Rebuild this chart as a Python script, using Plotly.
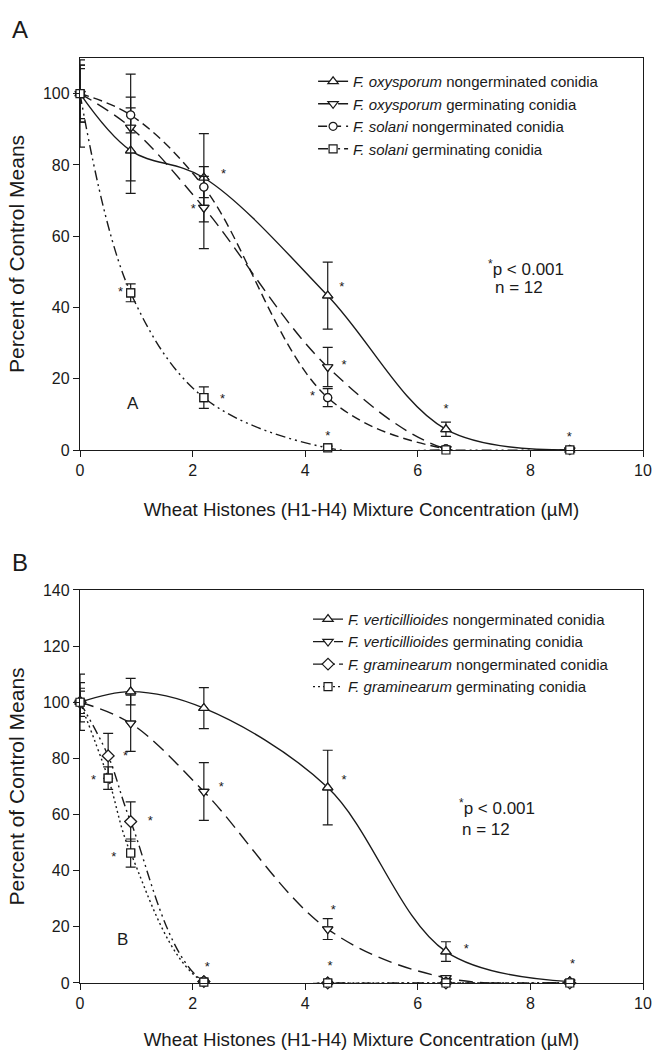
import plotly.graph_objects as go

# ---------------- Data: panel A ----------------
x_a = [0, 0.9, 2.2, 4.4, 6.5, 8.7]
oxy_ng = [100, 84, 76.4, 43.3, 5.8, 0]
oxy_ng_err = [8, 12, 12.4, 9.4, 2, 0.5]
oxy_g = [100, 90.5, 68, 23.3, 0.3, 0]
oxy_g_err = [7, 15, 11.5, 5.5, 0.5, 0.5]
sol_ng = [100, 94, 73.8, 14.7, 0.3, 0]
sol_ng_err = [8, 5, 3, 2.5, 0.5, 0.5]
sol_g = [100, 44.1, 14.7, 0.6, 0, 0]
sol_g_err_plus = [9.5, 2.5, 3, 0.5, 0, 0]
sol_g_err_minus = [15, 2.5, 3, 0.5, 0, 0]

star_a_x = [2.55, 2.01, 4.65, 4.69, 4.13, 4.4, 0.72, 2.53, 6.5, 8.69]
star_a_y = [77.2, 67.3, 45.6, 23.6, 14.9, 3.7, 44, 14.2, 11.2, 3.5]

# ---------------- Data: panel B ----------------
x_b = [0, 0.9, 2.2, 4.4, 6.5, 8.7]
ver_ng = [100, 103.8, 97.9, 69.6, 11.2, 0.5]
ver_ng_err = [10, 4.7, 7.3, 13.3, 3.5, 0.5]
ver_g = [100, 92.5, 68.2, 19.2, 1.8, 0.3]
ver_g_err = [5, 10, 10.3, 3.7, 0.5, 0.3]
x_b2 = [0, 0.5, 0.9, 2.2, 4.4, 6.5, 8.7]
gra_ng = [100, 80.9, 57.5, 0.5, 0, 0, 0]
gra_ng_err = [4, 8, 7, 0.5, 0, 0, 0]
gra_g = [100, 73, 46.3, 0.3, 0, 0, 0]
gra_g_err = [7, 4, 5, 0.3, 0, 0, 0]

star_b_x = [0.81, 0.24, 1.25, 0.6, 2.51, 4.69, 4.5, 4.44, 2.26, 6.86, 8.75]
star_b_y = [80.6, 72.1, 57.5, 44.5, 69.4, 72.1, 25.8, 5.9, 5.3, 11.9, 6.5]

x_ticks = [0, 2, 4, 6, 8, 10]
y_ticks_a = [0, 20, 40, 60, 80, 100]
y_ticks_b = [0, 20, 40, 60, 80, 100, 120, 140]

FONT = "Liberation Sans, Arial, sans-serif"
INK = "#1a1a1a"

fig = go.Figure()

def add_series(x, y, name, symbol, dash, xa, ya, legend, err, errminus=None, size=9):
    # smooth line + legend entry (clipped to plot area)
    fig.add_trace(go.Scatter(
        x=x, y=y, name=name, mode="lines+markers",
        line=dict(color=INK, width=1.4, dash=dash, shape="spline", smoothing=1.0),
        marker=dict(symbol=symbol, size=size, color="white", line=dict(color=INK, width=1.2)),
        xaxis=xa, yaxis=ya, legend=legend, cliponaxis=True, hoverinfo="skip"))
    # markers with error bars (not clipped)
    ey = dict(type="data", array=err, color=INK, thickness=1.2, width=5, visible=True)
    if errminus is not None:
        ey["symmetric"] = False
        ey["arrayminus"] = errminus
    fig.add_trace(go.Scatter(
        x=x, y=y, mode="markers", showlegend=False,
        marker=dict(symbol=symbol, size=size, color="white", line=dict(color=INK, width=1.2)),
        error_y=ey, xaxis=xa, yaxis=ya, cliponaxis=False, hoverinfo="skip"))

DDD = "10px,4px,2px,4px,2px,4px"

add_series(x_a, oxy_ng, "<i>F. oxysporum</i> nongerminated conidia", "triangle-up", "solid", "x", "y", "legend", oxy_ng_err)
add_series(x_a, oxy_g, "<i>F. oxysporum</i> germinating conidia", "triangle-down", "13px,7px", "x", "y", "legend", oxy_g_err)
add_series(x_a, sol_ng, "<i>F. solani</i> nongerminated conidia", "circle", "9px,5px", "x", "y", "legend", sol_ng_err, size=8)
add_series(x_a, sol_g, "<i>F. solani</i> germinating conidia", "square", DDD, "x", "y", "legend", sol_g_err_plus, sol_g_err_minus, size=8)

add_series(x_b, ver_ng, "<i>F. verticillioides</i> nongerminated conidia", "triangle-up", "solid", "x2", "y2", "legend2", ver_ng_err)
add_series(x_b, ver_g, "<i>F. verticillioides</i> germinating conidia", "triangle-down", "14px,7px", "x2", "y2", "legend2", ver_g_err)
add_series(x_b2, gra_ng, "<i>F. graminearum</i> nongerminated conidia", "diamond", DDD, "x2", "y2", "legend2", gra_ng_err)
add_series(x_b2, gra_g, "<i>F. graminearum</i> germinating conidia", "square", "2px,3px", "x2", "y2", "legend2", gra_g_err, size=8)

fig.add_trace(go.Scatter(x=star_a_x, y=star_a_y, mode="text", text=["*"] * len(star_a_x),
                         textfont=dict(size=13, color=INK, family=FONT), showlegend=False,
                         xaxis="x", yaxis="y", cliponaxis=False, hoverinfo="skip"))
fig.add_trace(go.Scatter(x=star_b_x, y=star_b_y, mode="text", text=["*"] * len(star_b_x),
                         textfont=dict(size=13, color=INK, family=FONT), showlegend=False,
                         xaxis="x2", yaxis="y2", cliponaxis=False, hoverinfo="skip"))

axis_common = dict(showline=True, linecolor=INK, linewidth=1.3, mirror=True,
                   ticks="outside", ticklen=6, tickwidth=1.2, tickcolor=INK,
                   showgrid=False, zeroline=False, automargin=False,
                   tickfont=dict(size=16, color=INK, family=FONT))

xtitle = dict(text="Wheat Histones (H1-H4) Mixture Concentration (\u00b5M)",
              font=dict(size=18.7, color=INK, family=FONT), standoff=24)
ytitle = dict(text="Percent of Control Means", font=dict(size=21, color=INK, family=FONT), standoff=12)

fig.update_layout(
    width=653, height=1050,
    margin=dict(l=80, r=10, t=58, b=67),
    paper_bgcolor="white", plot_bgcolor="white",
    font=dict(family=FONT, color=INK),
    xaxis=dict(domain=[0, 1], range=[0, 10], tickvals=x_ticks, anchor="y", title=xtitle, **axis_common),
    yaxis=dict(domain=[0.5762, 1], range=[0, 110], tickvals=y_ticks_a, anchor="x", title=ytitle, **axis_common),
    xaxis2=dict(domain=[0, 1], range=[0, 10], tickvals=x_ticks, anchor="y2", title=xtitle, **axis_common),
    yaxis2=dict(domain=[0, 0.4249], range=[0, 140], tickvals=y_ticks_b, anchor="x2", title=ytitle, **axis_common),
    legend=dict(x=0.414, y=0.9924, xanchor="left", yanchor="top", bgcolor="rgba(0,0,0,0)",
                font=dict(size=15, color=INK, family=FONT), tracegroupgap=0),
    legend2=dict(x=0.405, y=0.411, xanchor="left", yanchor="top", bgcolor="rgba(0,0,0,0)",
                 font=dict(size=15, color=INK, family=FONT), tracegroupgap=0),
    showlegend=True,
)

ann_font = dict(size=17, color=INK, family=FONT)
fig.add_annotation(text="A", xref="paper", yref="paper", x=-0.1066, y=1.0303, showarrow=False,
                   font=dict(size=24, color=INK, family=FONT), xanchor="center", yanchor="middle")
fig.add_annotation(text="B", xref="paper", yref="paper", x=-0.1066, y=0.455, showarrow=False,
                   font=dict(size=24, color=INK, family=FONT), xanchor="center", yanchor="middle")
fig.add_annotation(text="A", xref="x", yref="y", x=0.94, y=13, showarrow=False, font=ann_font)
fig.add_annotation(text="B", xref="x2", yref="y2", x=0.75, y=15.4, showarrow=False, font=ann_font)
fig.add_annotation(text="<sup>*</sup>p < 0.001", xref="x", yref="y", x=7.22, y=51.2, showarrow=False,
                   font=ann_font, xanchor="left")
fig.add_annotation(text="n = 12", xref="x", yref="y", x=7.33, y=45.6, showarrow=False,
                   font=ann_font, xanchor="left")
fig.add_annotation(text="<sup>*</sup>p < 0.001", xref="x2", yref="y2", x=6.70, y=62.8, showarrow=False,
                   font=ann_font, xanchor="left")
fig.add_annotation(text="n = 12", xref="x2", yref="y2", x=6.75, y=54.7, showarrow=False,
                   font=ann_font, xanchor="left")

fig.write_html("out.html", config={"displayModeBar": False},
               post_script="document.body.style.margin='0';document.body.style.overflow='hidden';")
